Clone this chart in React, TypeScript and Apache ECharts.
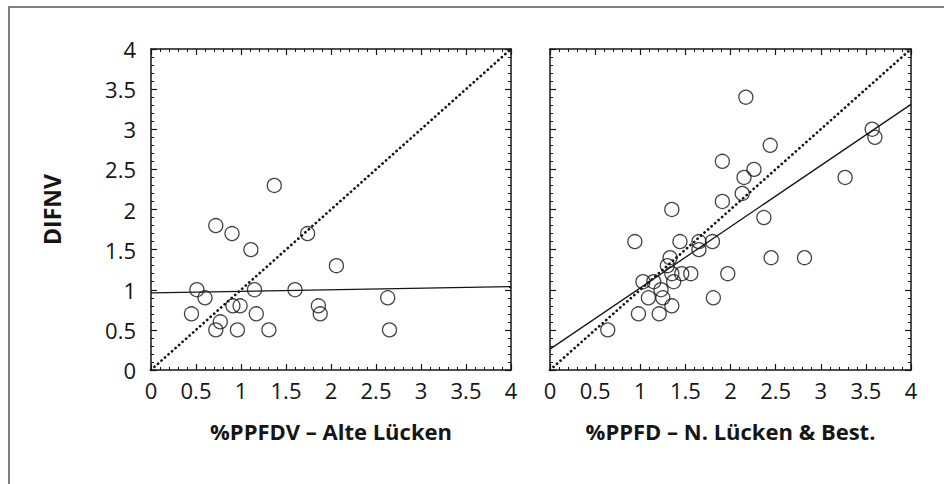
import React, { useEffect, useRef } from "react";
import * as echarts from "echarts";

// ---- data ----
const leftX = [1.37, 0.72, 0.9, 1.11, 1.74, 2.06, 0.51, 0.6, 1.15, 1.6, 0.91, 0.99, 1.86, 1.88, 0.45, 0.77, 1.17, 0.72, 0.96, 1.31, 2.63, 2.65];
const leftY = [2.3, 1.8, 1.7, 1.5, 1.7, 1.3, 1.0, 0.9, 1.0, 1.0, 0.8, 0.8, 0.8, 0.7, 0.7, 0.6, 0.7, 0.5, 0.5, 0.5, 0.9, 0.5];

const rightX = [0.94, 1.44, 1.65, 1.8, 1.65, 1.33, 1.3, 1.35, 1.46, 1.56, 1.97, 1.03, 1.15, 1.37, 1.23, 1.09, 1.25, 1.81, 1.35, 0.98, 1.21, 0.64, 1.91, 1.91, 1.35, 2.17, 2.44, 2.15, 2.26, 2.13, 2.37, 2.45, 2.82, 3.27, 3.57, 3.6];
const rightY = [1.6, 1.6, 1.6, 1.6, 1.5, 1.4, 1.3, 1.2, 1.2, 1.2, 1.2, 1.1, 1.1, 1.1, 1.0, 0.9, 0.9, 0.9, 0.8, 0.7, 0.7, 0.5, 2.6, 2.1, 2.0, 3.4, 2.8, 2.4, 2.5, 2.2, 1.9, 1.4, 1.4, 2.4, 3.0, 2.9];

const identityLineX = [0, 4];
const identityLineY = [0, 4];
const fitLeftX = [0, 4];
const fitLeftY = [0.96, 1.04];
const fitRightX = [0, 4];
const fitRightY = [0.26, 3.31];

const axisTicks = [0, 0.5, 1, 1.5, 2, 2.5, 3, 3.5, 4];
const yAxisTitle = "DIFNV";
const xTitleLeft = "%PPFDV – Alte Lücken";
const xTitleRight = "%PPFD – N. Lücken & Best.";

const zip = (xs: number[], ys: number[]) => xs.map((x, i) => [x, ys[i]]);

const FONT = "Open Sans";
const INK = "#151515";

function valueAxis(gridIndex: number, position: string, showLabels: boolean, name?: string): any {
  const isX = position === "bottom" || position === "top";
  return {
    type: "value",
    gridIndex,
    position,
    min: axisTicks[0],
    max: axisTicks[axisTicks.length - 1],
    interval: axisTicks[1] - axisTicks[0],
    name: name || "",
    nameLocation: "middle",
    nameGap: isX ? 50 : 88,
    nameTextStyle: { fontFamily: FONT, fontSize: isX ? 22 : 23, fontWeight: "bold", color: INK },
    axisLine: { show: true, onZero: false, lineStyle: { color: INK, width: 1.5 } },
    axisTick: { show: true, inside: true, length: 6, lineStyle: { color: INK, width: 1.2 } },
    minorTick: { show: true, splitNumber: 5, length: 3, lineStyle: { color: INK, width: 1 } },
    splitLine: { show: false },
    minorSplitLine: { show: false },
    axisLabel: {
      show: showLabels,
      fontFamily: FONT,
      fontSize: 22,
      color: INK,
      margin: isX ? 9 : 15,
    },
  };
}

export default function App() {
  const ref = useRef<HTMLDivElement>(null);

  useEffect(() => {
    if (!ref.current) return;
    const chart = echarts.init(ref.current, undefined, { renderer: "svg" });

    const scatterStyle = {
      symbol: "circle",
      symbolSize: 14,
      itemStyle: { color: "rgba(255,255,255,0)", borderColor: INK, borderWidth: 1.3 },
    };
    const dotted = { color: INK, width: 2.7, type: [0.1, 4.6], cap: "round" };
    const solid = { color: INK, width: 1.3 };

    chart.setOption({
      animation: false,
      backgroundColor: "#ffffff",
      grid: [
        { left: 151, top: 49, width: 360, height: 321 },
        { left: 550, top: 49, width: 361, height: 321 },
      ],
      xAxis: [
        valueAxis(0, "bottom", true, xTitleLeft),
        valueAxis(0, "top", false),
        valueAxis(1, "bottom", true, xTitleRight),
        valueAxis(1, "top", false),
      ],
      yAxis: [
        valueAxis(0, "left", true, yAxisTitle),
        valueAxis(0, "right", false),
        valueAxis(1, "left", false),
        valueAxis(1, "right", false),
      ],
      graphic: [
        {
          type: "rect",
          shape: { x: 9, y: 7, width: 1200, height: 1200 },
          style: { fill: "none", stroke: "#555", lineWidth: 1.5 },
          silent: true,
        },
      ],
      series: [
        {
          type: "line",
          xAxisIndex: 0,
          yAxisIndex: 0,
          data: zip(identityLineX, identityLineY),
          showSymbol: false,
          lineStyle: dotted,
          z: 2,
        },
        {
          type: "line",
          xAxisIndex: 0,
          yAxisIndex: 0,
          data: zip(fitLeftX, fitLeftY),
          showSymbol: false,
          lineStyle: solid,
          z: 2,
        },
        {
          type: "scatter",
          xAxisIndex: 0,
          yAxisIndex: 0,
          data: zip(leftX, leftY),
          ...scatterStyle,
          z: 3,
        },
        {
          type: "line",
          xAxisIndex: 2,
          yAxisIndex: 2,
          data: zip(identityLineX, identityLineY),
          showSymbol: false,
          lineStyle: dotted,
          z: 2,
        },
        {
          type: "line",
          xAxisIndex: 2,
          yAxisIndex: 2,
          data: zip(fitRightX, fitRightY),
          showSymbol: false,
          lineStyle: solid,
          z: 2,
        },
        {
          type: "scatter",
          xAxisIndex: 2,
          yAxisIndex: 2,
          data: zip(rightX, rightY),
          ...scatterStyle,
          z: 3,
        },
      ],
    });

    return () => chart.dispose();
  }, []);

  return (
    <div
      ref={ref}
      style={{ position: "fixed", left: 0, top: 0, width: 944, height: 484, background: "#fff" }}
    />
  );
}
